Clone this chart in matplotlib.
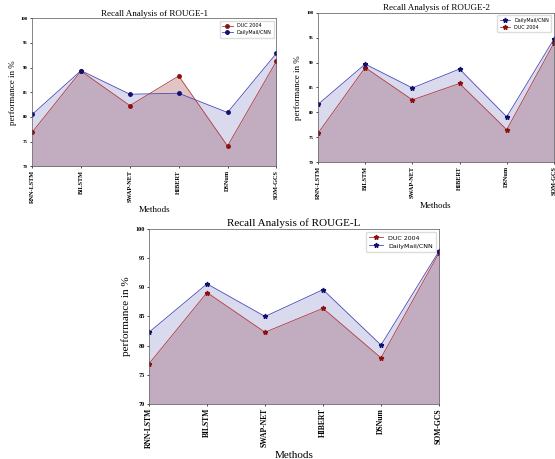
import matplotlib
matplotlib.use("Agg")
import matplotlib.pyplot as plt
import numpy as np

methods = ["RNN-LSTM", "BILSTM", "SWAP-NET", "HIBERT", "DSNum", "SOM-GCS"]

# ROUGE-1 recall
r1_duc = [76.9, 89.3, 82.3, 88.3, 74.1, 91.3]
r1_dm = [80.5, 89.4, 84.6, 84.8, 80.9, 92.9]

# ROUGE-2 recall
r2_duc = [75.8, 89.0, 82.5, 85.8, 76.5, 93.9]
r2_dm = [81.6, 89.7, 84.9, 88.7, 79.1, 94.7]

# ROUGE-L recall
rl_duc = [76.9, 89.1, 82.3, 86.4, 77.9, 95.9]
rl_dm = [82.3, 90.6, 85.0, 89.6, 80.1, 96.2]

SERIF = "Liberation Serif"
DUC_LINE = "#b03a3a"
DUC_MARK = "#8b1010"
DUC_FILL = "#8b1a1a"
DM_LINE = "#4848b8"
DM_MARK = "#101070"
DM_FILL = "#4a4ab0"


def draw(ax, duc, dm, title, marker, dm_first, fs):
    x = np.arange(len(methods))
    ax.fill_between(x, duc, 70, color=DUC_FILL, alpha=0.25, lw=0)
    ax.fill_between(x, dm, 70, color=DM_FILL, alpha=0.2, lw=0)
    ms = 3.5 if marker == "*" else 2.5
    l1, = ax.plot(x, duc, color=DUC_LINE, lw=0.6, marker=marker, ms=ms,
                  mfc=DUC_MARK, mec=DUC_MARK, label="DUC 2004")
    l2, = ax.plot(x, dm, color=DM_LINE, lw=0.6, marker=marker, ms=ms,
                  mfc=DM_MARK, mec=DM_MARK, label="DailyMail/CNN")
    ax.set_xlim(0, 5)
    ax.set_ylim(70, 100)
    ax.set_yticks(range(70, 101, 5))
    ax.set_xticks(x)
    ax.set_xticklabels(methods, rotation=90, family=SERIF, weight="bold",
                       fontsize=fs["xt"])
    for t in ax.get_yticklabels():
        t.set_family(SERIF)
        t.set_weight("bold")
        t.set_fontsize(fs["yt"])
    ax.tick_params(length=1.5, width=0.5, pad=1.5)
    ax.set_title(title, family=SERIF, fontsize=fs["title"], pad=2)
    ax.set_xlabel("Methods", family=SERIF, fontsize=fs["lab"], labelpad=2)
    ax.set_ylabel("performance in %", family=SERIF, fontsize=fs["lab"], labelpad=3)
    for s in ax.spines.values():
        s.set_linewidth(0.5)
        s.set_color("#555555")
    handles = [l2, l1] if dm_first else [l1, l2]
    ax.legend(handles=handles, loc="upper right", fontsize=fs["leg"],
              frameon=True, edgecolor="#dddddd", handlelength=2.2,
              borderpad=0.5, labelspacing=0.4, framealpha=1)


fig = plt.figure(figsize=(5.55, 4.59), dpi=100)

small = {"xt": 4.5, "yt": 3.5, "title": 6.5, "lab": 6.5, "leg": 3.5}
big = {"xt": 5.5, "yt": 4.5, "title": 8, "lab": 8, "leg": 4.5}

ax1 = fig.add_axes([0.058, 0.638, 0.440, 0.322])
draw(ax1, r1_duc, r1_dm, "Recall Analysis of ROUGE-1", "o", False, small)

ax2 = fig.add_axes([0.573, 0.647, 0.425, 0.325])
draw(ax2, r2_duc, r2_dm, "Recall Analysis of ROUGE-2", "*", True, small)

ax3 = fig.add_axes([0.2685, 0.120, 0.5225, 0.381])
draw(ax3, rl_duc, rl_dm, "Recall Analysis of ROUGE-L", "*", False, big)

fig.savefig("out.png", dpi=100)
